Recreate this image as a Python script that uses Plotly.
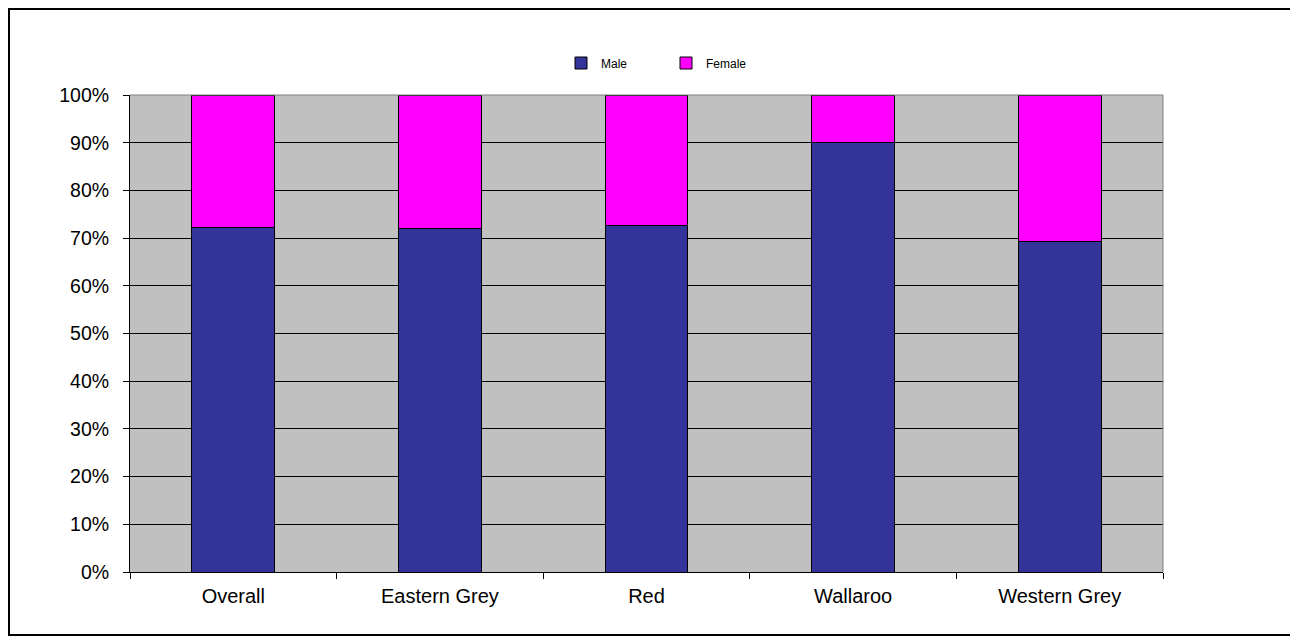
import plotly.graph_objects as go

categories = ["Overall", "Eastern Grey", "Red", "Wallaroo", "Western Grey"]
male = [72.3, 72.0, 72.6, 90.0, 69.2]
female = [round(100 - v, 1) for v in male]
y_ticks = [0, 10, 20, 30, 40, 50, 60, 70, 80, 90, 100]
y_tick_labels = [f"{v}%" for v in y_ticks]

# Figure sits at (8, 8) in the page because of the default body margin
OFF = 8
W, H = 1284, 628
L, R, T, B = 130 - OFF, 1163 - OFF, 95 - OFF, 572 - OFF

fig = go.Figure()
fig.add_trace(go.Bar(name="Male", x=categories, y=male,
                     marker=dict(color="#333399", line=dict(color="black", width=1))))
fig.add_trace(go.Bar(name="Female", x=categories, y=female,
                     marker=dict(color="#FF00FF", line=dict(color="black", width=1))))

def px(x):
    return (x - L) / (R - L)

def py(y):
    return (B - y) / (B - T)

fig.update_layout(
    width=W, height=H,
    barmode="stack", bargap=0.6,
    plot_bgcolor="#C0C0C0", paper_bgcolor="white",
    margin=dict(l=L, r=W - R, t=T, b=H - B, autoexpand=False),
    font=dict(family="Liberation Sans, Arial, sans-serif", color="black", size=19),
    showlegend=True,
    legend=dict(orientation="h", traceorder="normal",
                x=px(561 - OFF), xanchor="left", y=py(63 - OFF), yanchor="middle",
                font=dict(size=12), entrywidthmode="pixels", entrywidth=60,
                bgcolor="rgba(0,0,0,0)"),
    xaxis=dict(showgrid=False, ticks="outside", tickson="boundaries", ticklen=6,
               tickcolor="black", showline=True, linecolor="black", linewidth=1,
               ticklabelstandoff=6, tickfont=dict(size=20)),
    yaxis=dict(range=[0, 100], tickvals=y_ticks, ticktext=y_tick_labels,
               showgrid=True, gridcolor="black", gridwidth=1, zeroline=False,
               ticks="outside", ticklen=6, tickcolor="black",
               showline=True, linecolor="black", linewidth=1,
               ticklabelstandoff=10, tickfont=dict(size=19.5)),
    shapes=[
        dict(type="rect", xref="paper", yref="paper",
             x0=px(1), x1=px(W - 1), y0=py(H - 1), y1=py(1),
             line=dict(color="black", width=2), fillcolor="rgba(0,0,0,0)", layer="below"),
        dict(type="line", xref="paper", yref="paper", x0=1, x1=1, y0=0, y1=1,
             line=dict(color="#808080", width=1)),
        dict(type="line", xref="paper", yref="paper", x0=0, x1=1, y0=1, y1=1,
             line=dict(color="#808080", width=1)),
    ],
)

fig.write_html("out.html")
